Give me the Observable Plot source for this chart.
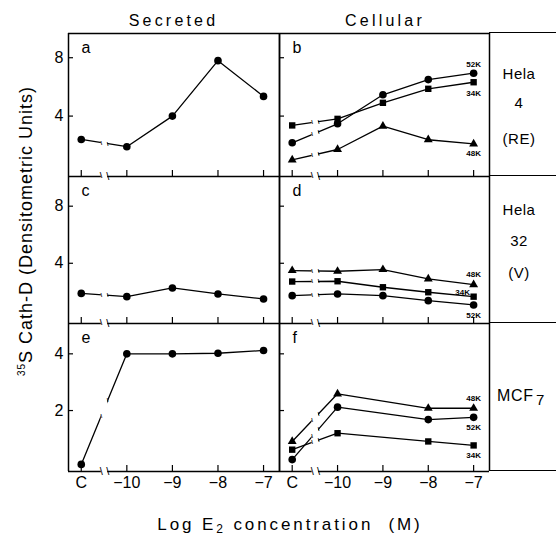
<!DOCTYPE html>
<html><head><meta charset="utf-8">
<script src="https://cdn.jsdelivr.net/npm/d3@7"></script>
<script src="https://cdn.jsdelivr.net/npm/@observablehq/plot@0.6"></script>
<style>
body{margin:0;background:#fff;}
#root{position:relative;width:556px;height:535px;overflow:hidden;background:#fff;font-family:"Liberation Sans",Arial,Helvetica,sans-serif;color:#000;}
#root svg{overflow:visible;}
.t{position:absolute;line-height:1;white-space:pre;transform:translate(-50%,-50%);}
.hl{position:absolute;height:0;border-top:1.5px solid #000;}
</style></head><body><div id="root"></div>
<script>
// ---- data ----
const xLabels = ["C", "−10", "−9", "−8", "−7"];
const xValues = [-11, -10, -9, -8, -7];
const columnTitles = ["Secreted", "Cellular"];
const panelLetters = ["a", "b", "c", "d", "e", "f"];
const cellLineLabels = [["Hela", "4", "(RE)"], ["Hela", "32", "(V)"], ["MCF", "7"]];
const yTicksUpper = [4, 8];
const yTicksLower = [2, 4];
const seriesNames = ["52K", "34K", "48K"];

const secretedHela4 = [2.4, 1.9, 4.0, 7.8, 5.35];
const cellHela4_52K = [2.17, 3.47, 5.46, 6.5, 6.94];
const cellHela4_34K = [3.36, 3.81, 4.91, 5.87, 6.32];
const cellHela4_48K = [1.0, 1.71, 3.31, 2.38, 2.1];

const secretedHela32 = [1.89, 1.66, 2.27, 1.85, 1.5];
const cellHela32_52K = [1.73, 1.85, 1.73, 1.38, 1.08];
const cellHela32_34K = [2.72, 2.74, 2.32, 1.97, 1.66];
const cellHela32_48K = [3.49, 3.44, 3.56, 2.9, 2.5];

const secretedMCF7 = [0.1, 4.0, 4.0, 4.02, 4.12];
const cellMCF7_52K = [0.27, 2.12, null, 1.68, 1.76];
const cellMCF7_34K = [0.62, 1.2, null, 0.91, 0.77];
const cellMCF7_48K = [0.91, 2.59, null, 2.08, 2.08];

// ---- layout ----
const colX = [68, 279, 489];
const rowY = [33, 176, 323, 471];
const xDomain = [-11.28, -6.65];
const yDomains = [[-0.14, 9.66], [-0.22, 10.08], [-0.15, 5.07]];
const breakX = [-10.56, -10.42];
const symR = {circle: 3.8, square: 3.6, triangle: 3.3};
const FONT = '"Liberation Sans", Arial, Helvetica, sans-serif';

const panels = [
  {col: 0, row: 0, yticks: yTicksUpper, series: [{symbol: "circle", values: secretedHela4}]},
  {col: 1, row: 0, yticks: yTicksUpper, series: [
    {name: seriesNames[0], symbol: "circle", values: cellHela4_52K, ldx: 0, ldy: -9},
    {name: seriesNames[1], symbol: "square", values: cellHela4_34K, ldx: 0, ldy: 11},
    {name: seriesNames[2], symbol: "triangle", values: cellHela4_48K, ldx: 0, ldy: 10}]},
  {col: 0, row: 1, yticks: yTicksUpper, series: [{symbol: "circle", values: secretedHela32}]},
  {col: 1, row: 1, yticks: yTicksUpper, series: [
    {name: seriesNames[0], symbol: "circle", values: cellHela32_52K, ldx: 0, ldy: 10},
    {name: seriesNames[1], symbol: "square", values: cellHela32_34K, ldx: -11, ldy: -4},
    {name: seriesNames[2], symbol: "triangle", values: cellHela32_48K, ldx: 0, ldy: -10}]},
  {col: 0, row: 2, yticks: yTicksLower, series: [{symbol: "circle", values: secretedMCF7}]},
  {col: 1, row: 2, yticks: yTicksLower, series: [
    {name: seriesNames[0], symbol: "circle", values: cellMCF7_52K, ldx: 0, ldy: 10},
    {name: seriesNames[1], symbol: "square", values: cellMCF7_34K, ldx: 0, ldy: 10},
    {name: seriesNames[2], symbol: "triangle", values: cellMCF7_48K, ldx: 0, ldy: -10}]}
];

const root = document.getElementById("root");

panels.forEach((p, idx) => {
  const left = colX[p.col], right = colX[p.col + 1];
  const top = rowY[p.row], bottom = rowY[p.row + 1];
  const w = right - left, h = bottom - top;
  const ml = 40, mr = 20, mt = 6, mb = 30;
  const [y0, y1] = yDomains[p.row];
  const [x0, x1] = xDomain;
  const marks = [];
  marks.push(Plot.ruleX([x0, x1], {x: d => d, stroke: "#000", strokeWidth: 1.5}));
  marks.push(Plot.ruleY(p.row === 0 ? [y0, y1] : [y0], {y: d => d, stroke: "#000", strokeWidth: 1.5}));
  marks.push(Plot.ruleY(p.yticks, {y: d => d, insetRight: w - 5, stroke: "#000", strokeWidth: 1.2}));
  marks.push(Plot.ruleX(xValues, {x: d => d, insetTop: h - 6, stroke: "#000", strokeWidth: 1.2}));
  const breakTicks = [];
  for (const s of p.series) {
    const pts = xValues.map((x, i) => ({x, y: s.values[i]})).filter(d => d.y != null);
    marks.push(Plot.line(pts, {x: "x", y: "y", stroke: "#000", strokeWidth: 1.3}));
    marks.push(Plot.dot(pts, {x: "x", y: "y", symbol: s.symbol, r: symR[s.symbol], fill: "#000", stroke: "none"}));
    const a = s.values[0], b = s.values[1];
    for (const bx of breakX) breakTicks.push({x: bx, y: a + (b - a) * (bx - xValues[0]) / (xValues[1] - xValues[0])});
    if (s.name) {
      const last = pts[pts.length - 1];
      marks.push(Plot.text([last], {x: "x", y: "y", text: () => s.name, dx: s.ldx, dy: s.ldy, fontSize: 8, fontWeight: "bold", fill: "#000"}));
    }
  }
  // axis break
  marks.push(Plot.rect([0], {x1: () => breakX[0], x2: () => breakX[1], y1: () => y0, y2: () => y1, fill: "#fff", insetTop: 2, insetBottom: -3}));
  marks.push(Plot.text(breakX, {x: d => d, y: () => y0, text: () => "\\", fontSize: 11, fill: "#000"}));
  marks.push(Plot.text(breakTicks, {x: "x", y: "y", text: () => "\\", fontSize: 6, fontWeight: "bold", fill: "#000"}));
  // letter
  marks.push(Plot.text([panelLetters[idx]], {frameAnchor: "top-left", dx: 13, dy: 8, fontSize: 16, fill: "#000"}));
  if (p.col === 0) {
    marks.push(Plot.text(p.yticks, {x: () => x0, y: d => d, text: d => String(d), dx: -5, textAnchor: "end", fontSize: 16, fill: "#000"}));
  }
  if (p.row === 2) {
    marks.push(Plot.text(xValues, {x: d => d, y: () => y0, text: (d, i) => xLabels[i], dy: 11, fontSize: 16, fill: "#000"}));
  }
  const svg = Plot.plot({
    width: w + ml + mr, height: h + mt + mb,
    marginLeft: ml, marginRight: mr, marginTop: mt, marginBottom: mb,
    x: {domain: xDomain, axis: null},
    y: {domain: yDomains[p.row], axis: null},
    style: {background: "transparent", fontFamily: FONT, overflow: "visible", maxWidth: "none"},
    marks
  });
  svg.style.position = "absolute";
  svg.style.left = (left - ml) + "px";
  svg.style.top = (top - mt) + "px";
  root.appendChild(svg);
});

function addText(html, x, y, size, extra = "") {
  const d = document.createElement("div");
  d.className = "t";
  d.style.left = x + "px";
  d.style.top = y + "px";
  d.style.fontSize = size + "px";
  d.style.cssText += extra;
  d.innerHTML = html;
  root.appendChild(d);
  return d;
}
function hline(x1, x2, y) {
  const d = document.createElement("div");
  d.className = "hl";
  d.style.left = x1 + "px";
  d.style.width = (x2 - x1) + "px";
  d.style.top = (y - 0.75) + "px";
  root.appendChild(d);
}

// column titles
addText(columnTitles[0], (colX[0] + colX[1]) / 2, 21, 16, "letter-spacing:3.2px;");
addText(columnTitles[1], (colX[1] + colX[2]) / 2 + 1, 21, 16, "letter-spacing:3.2px;");

// cell-line column
for (const y of rowY) hline(colX[2], 556, y);
const cellY = [[73, 102, 138], [209, 240, 272]];
cellLineLabels.slice(0, 2).forEach((lines, r) => {
  lines.forEach((s, i) => addText(s, 519, cellY[r][i], 15, "letter-spacing:0.5px;"));
});
addText(cellLineLabels[2][0] + '<span style="font-size:15px;position:relative;top:4px;margin-left:2px">' + cellLineLabels[2][1] + '</span>', 521, 396, 16, "letter-spacing:0.8px;");

// axis titles
addText('<span style="font-size:10px;position:relative;top:-7px">35</span>S Cath-D (Densitometric Units)', 26, 231, 18, "letter-spacing:1px;transform:translate(-50%,-50%) rotate(-90deg);");
addText('Log E<span style="font-size:12px;position:relative;top:3px">2</span> concentration  (M)', 290, 524, 17, "letter-spacing:2.9px;");
</script></body></html>
